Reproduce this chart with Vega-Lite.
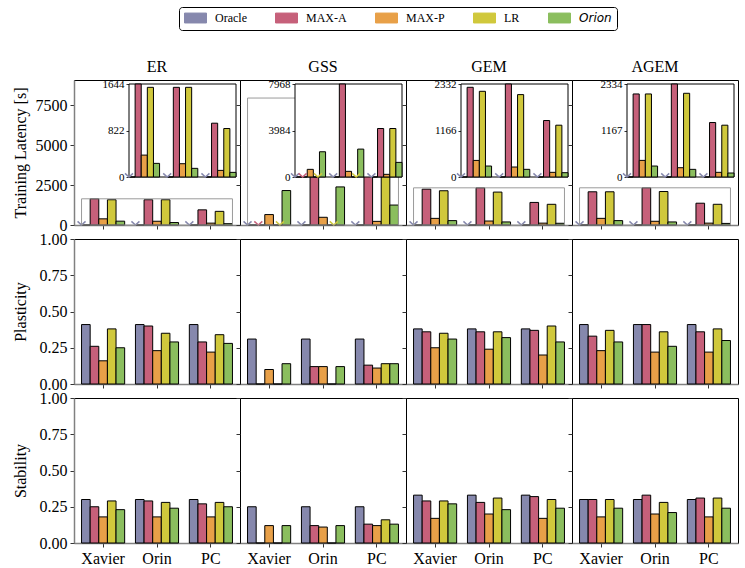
{
"$schema":"https://vega.github.io/schema/vega-lite/v6.json",
"padding":{"left":11,"top":6,"right":5,"bottom":0},
"datasets":{
"t":[
{"k":"lat","s":"ER","d":"Xavier","Oracle":0,"MAX-A":1644,"MAX-P":387,"LR":1585,"Orion":241},
{"k":"lat","s":"ER","d":"Orin","Oracle":0,"MAX-A":1585,"MAX-P":235,"LR":1585,"Orion":153},
{"k":"lat","s":"ER","d":"PC","Oracle":0,"MAX-A":951,"MAX-P":117,"LR":857,"Orion":82},
{"k":"lat","s":"GSS","d":"Xavier","Oracle":0,"MAX-A":0,"MAX-P":655,"LR":0,"Orion":2163},
{"k":"lat","s":"GSS","d":"Orin","Oracle":0,"MAX-A":7968,"MAX-P":484,"LR":0,"Orion":2390},
{"k":"lat","s":"GSS","d":"PC","Oracle":0,"MAX-A":4155,"MAX-P":228,"LR":4155,"Orion":1252},
{"k":"lat","s":"GEM","d":"Xavier","Oracle":0,"MAX-A":2249,"MAX-P":416,"LR":2149,"Orion":275},
{"k":"lat","s":"GEM","d":"Orin","Oracle":0,"MAX-A":2332,"MAX-P":250,"LR":2066,"Orion":192},
{"k":"lat","s":"GEM","d":"PC","Oracle":0,"MAX-A":1416,"MAX-P":117,"LR":1299,"Orion":108},
{"k":"lat","s":"AGEM","d":"Xavier","Oracle":0,"MAX-A":2084,"MAX-P":417,"LR":2084,"Orion":275},
{"k":"lat","s":"AGEM","d":"Orin","Oracle":0,"MAX-A":2334,"MAX-P":233,"LR":2101,"Orion":192},
{"k":"lat","s":"AGEM","d":"PC","Oracle":0,"MAX-A":1367,"MAX-P":117,"LR":1300,"Orion":100},
{"k":"pla","s":"ER","d":"Xavier","Oracle":0.41,"MAX-A":0.26,"MAX-P":0.16,"LR":0.38,"Orion":0.25},
{"k":"pla","s":"ER","d":"Orin","Oracle":0.41,"MAX-A":0.40,"MAX-P":0.23,"LR":0.35,"Orion":0.29},
{"k":"pla","s":"ER","d":"PC","Oracle":0.41,"MAX-A":0.29,"MAX-P":0.22,"LR":0.34,"Orion":0.28},
{"k":"pla","s":"GSS","d":"Xavier","Oracle":0.31,"MAX-A":0,"MAX-P":0.10,"LR":0,"Orion":0.14},
{"k":"pla","s":"GSS","d":"Orin","Oracle":0.31,"MAX-A":0.12,"MAX-P":0.12,"LR":0,"Orion":0.12},
{"k":"pla","s":"GSS","d":"PC","Oracle":0.31,"MAX-A":0.13,"MAX-P":0.11,"LR":0.14,"Orion":0.14},
{"k":"pla","s":"GEM","d":"Xavier","Oracle":0.38,"MAX-A":0.36,"MAX-P":0.25,"LR":0.35,"Orion":0.31},
{"k":"pla","s":"GEM","d":"Orin","Oracle":0.38,"MAX-A":0.36,"MAX-P":0.24,"LR":0.36,"Orion":0.32},
{"k":"pla","s":"GEM","d":"PC","Oracle":0.38,"MAX-A":0.37,"MAX-P":0.20,"LR":0.40,"Orion":0.29},
{"k":"pla","s":"AGEM","d":"Xavier","Oracle":0.41,"MAX-A":0.33,"MAX-P":0.23,"LR":0.37,"Orion":0.29},
{"k":"pla","s":"AGEM","d":"Orin","Oracle":0.41,"MAX-A":0.41,"MAX-P":0.22,"LR":0.36,"Orion":0.26},
{"k":"pla","s":"AGEM","d":"PC","Oracle":0.41,"MAX-A":0.36,"MAX-P":0.22,"LR":0.38,"Orion":0.30},
{"k":"sta","s":"ER","d":"Xavier","Oracle":0.30,"MAX-A":0.25,"MAX-P":0.18,"LR":0.29,"Orion":0.23},
{"k":"sta","s":"ER","d":"Orin","Oracle":0.30,"MAX-A":0.29,"MAX-P":0.18,"LR":0.28,"Orion":0.24},
{"k":"sta","s":"ER","d":"PC","Oracle":0.30,"MAX-A":0.27,"MAX-P":0.18,"LR":0.28,"Orion":0.25},
{"k":"sta","s":"GSS","d":"Xavier","Oracle":0.25,"MAX-A":0,"MAX-P":0.12,"LR":0,"Orion":0.12},
{"k":"sta","s":"GSS","d":"Orin","Oracle":0.25,"MAX-A":0.12,"MAX-P":0.11,"LR":0,"Orion":0.12},
{"k":"sta","s":"GSS","d":"PC","Oracle":0.25,"MAX-A":0.13,"MAX-P":0.12,"LR":0.16,"Orion":0.13},
{"k":"sta","s":"GEM","d":"Xavier","Oracle":0.33,"MAX-A":0.29,"MAX-P":0.17,"LR":0.29,"Orion":0.27},
{"k":"sta","s":"GEM","d":"Orin","Oracle":0.33,"MAX-A":0.28,"MAX-P":0.20,"LR":0.31,"Orion":0.23},
{"k":"sta","s":"GEM","d":"PC","Oracle":0.33,"MAX-A":0.32,"MAX-P":0.17,"LR":0.30,"Orion":0.24},
{"k":"sta","s":"AGEM","d":"Xavier","Oracle":0.30,"MAX-A":0.30,"MAX-P":0.18,"LR":0.30,"Orion":0.24},
{"k":"sta","s":"AGEM","d":"Orin","Oracle":0.30,"MAX-A":0.33,"MAX-P":0.20,"LR":0.28,"Orion":0.21},
{"k":"sta","s":"AGEM","d":"PC","Oracle":0.30,"MAX-A":0.31,"MAX-P":0.18,"LR":0.31,"Orion":0.24}
],
"ins":[
{"s":"ER","lo":0,"top":1644},
{"s":"GSS","lo":0,"top":7968},
{"s":"GEM","lo":0,"top":2332},
{"s":"AGEM","lo":0,"top":2334}
]
},
"data":{"name":"t"},
"vconcat":[
{"hconcat":[
{"title":"ER","width":166,"height":145,
"layer":[
{"transform":[{"filter":"datum.k==='lat'&&datum.s==='ER'"},{"fold":["Oracle","MAX-A","MAX-P","LR","Orion"],"as":["m","v"]}],
"mark":{"type":"bar","stroke":"black","strokeWidth":1},
"encoding":{
"x":{"field":"d","type":"nominal","title":null,"scale":{"domain":["Xavier","Orin","PC"],"paddingInner":0.2,"paddingOuter":0.14},"axis":{"labels":false,"tickSize":4,"domainColor":"#808080","domainWidth":1.5}},
"xOffset":{"field":"m","type":"nominal","scale":{"domain":["Oracle","MAX-A","MAX-P","LR","Orion"],"paddingInner":0,"paddingOuter":0}},
"y":{"field":"v","type":"quantitative","title":"Training Latency [s]","scale":{"domain":[0,9100],"nice":false},"axis":{"values":[0,2500,5000,7500],"format":"d","tickSize":4,"domainColor":"#808080","domainWidth":1.5}},
"color":{"field":"m","type":"nominal","title":null,"scale":{"domain":["Oracle","MAX-A","MAX-P","LR","Orion"],"range":["#8688AD","#C6607A","#E8A048","#D0C83C","#8BBE5E"]},
"legend":{"orient":"none","legendX":105,"legendY":-73,"direction":"horizontal","columns":5,"symbolType":"M-1,-0.9H3V0.9H-1Z","symbolSize":121,"symbolStrokeColor":"black","symbolStrokeWidth":1,"symbolOpacity":1,"labelFont":"Liberation Serif","labelFontSize":12,"labelColor":"black","labelOffset":19,"columnPadding":26,"padding":5,"strokeColor":"black","fillColor":"white","cornerRadius":3,
"encode":{"labels":{"update":{"fontStyle":{"signal":"datum.value==='Orion'?'italic':'normal'"},"font":{"signal":"datum.value==='Orion'?'DejaVu Sans':'Liberation Serif'"}}}}}}
}},
{"transform":[{"filter":"datum.k==='lat'&&datum.s==='ER'"},{"fold":["Oracle","MAX-A","MAX-P","LR","Orion"],"as":["m","v"]},{"filter":"datum.v===0"}],
"mark":{"type":"point","shape":"M-1,-0.9L0,0L1,-0.9","filled":false,"strokeWidth":1.5,"size":64,"opacity":1},
"encoding":{
"x":{"field":"d","type":"nominal","axis":null,"scale":{"domain":["Xavier","Orin","PC"],"paddingInner":0.2,"paddingOuter":0.14}},
"xOffset":{"field":"m","type":"nominal","scale":{"domain":["Oracle","MAX-A","MAX-P","LR","Orion"],"paddingInner":0,"paddingOuter":0}},
"y":{"field":"v","type":"quantitative","axis":null,"scale":{"domain":[0,9100],"nice":false}},
"color":{"field":"m","type":"nominal","title":null,"scale":{"domain":["Oracle","MAX-A","MAX-P","LR","Orion"],"range":["#8688AD","#C6607A","#E8A048","#D0C83C","#8BBE5E"]}}}},
{"data":{"name":"ins"},"transform":[{"filter":"datum.s==='ER'"}],
"mark":{"type":"rect","fillOpacity":0,"stroke":"#9a9a9a","strokeWidth":1},
"encoding":{
"x":{"datum":-0.4,"type":"quantitative","axis":null,"scale":{"domain":[-0.54,2.54],"nice":false,"zero":false}},
"x2":{"datum":2.4},
"y":{"field":"lo","type":"quantitative","axis":null,"scale":{"domain":[0,9100],"nice":false}},
"y2":{"field":"top"}}},
{"data":{"name":"ins"},"transform":[{"filter":"datum.s==='ER'"}],
"mark":{"type":"rect","fill":"white","stroke":"black","strokeWidth":1},
"encoding":{
"x":{"datum":-0.4,"type":"quantitative","axis":null,"scale":{"domain":[-0.4,2.4],"nice":false,"zero":false,"range":[55,162]}},
"x2":{"datum":2.4},
"y":{"field":"lo","type":"quantitative","axis":null,"scale":{"domain":[0,1644],"nice":false,"range":[97,4]}},
"y2":{"field":"top"}}},
{"transform":[{"filter":"datum.k==='lat'&&datum.s==='ER'"},{"fold":["Oracle","MAX-A","MAX-P","LR","Orion"],"as":["m","v"]}],
"mark":{"type":"bar","stroke":"black","strokeWidth":1},
"encoding":{
"x":{"field":"d","type":"nominal","title":null,"axis":null,"scale":{"domain":["Xavier","Orin","PC"],"paddingInner":0.2,"paddingOuter":0,"range":[55,162]}},
"xOffset":{"field":"m","type":"nominal","scale":{"domain":["Oracle","MAX-A","MAX-P","LR","Orion"],"paddingInner":0,"paddingOuter":0}},
"y":{"field":"v","type":"quantitative","title":null,"scale":{"domain":[0,1644],"nice":false,"range":[97,4]},"axis":{"values":[0,822,1644],"orient":"left","offset":-55,"labelFontSize":11,"tickSize":3,"labelPadding":2,"domain":false,"format":"d"}},
"color":{"field":"m","type":"nominal","title":null,"scale":{"domain":["Oracle","MAX-A","MAX-P","LR","Orion"],"range":["#8688AD","#C6607A","#E8A048","#D0C83C","#8BBE5E"]}}}},
{"transform":[{"filter":"datum.k==='lat'&&datum.s==='ER'"},{"fold":["Oracle","MAX-A","MAX-P","LR","Orion"],"as":["m","v"]},{"filter":"datum.v===0"}],
"mark":{"type":"point","shape":"M-1,-0.9L0,0L1,-0.9","filled":false,"strokeWidth":1.5,"size":64,"opacity":1},
"encoding":{
"x":{"field":"d","type":"nominal","axis":null,"scale":{"domain":["Xavier","Orin","PC"],"paddingInner":0.2,"paddingOuter":0,"range":[55,162]}},
"xOffset":{"field":"m","type":"nominal","scale":{"domain":["Oracle","MAX-A","MAX-P","LR","Orion"],"paddingInner":0,"paddingOuter":0}},
"y":{"field":"v","type":"quantitative","axis":null,"scale":{"domain":[0,1644],"nice":false,"range":[97,4]}},
"color":{"field":"m","type":"nominal","title":null,"scale":{"domain":["Oracle","MAX-A","MAX-P","LR","Orion"],"range":["#8688AD","#C6607A","#E8A048","#D0C83C","#8BBE5E"]}}}}
],
"resolve":{"scale":{"x":"independent","y":"independent","xOffset":"independent"},"axis":{"x":"independent","y":"independent"}}
},
{"title":"GSS","width":166,"height":145,
"layer":[
{"transform":[{"filter":"datum.k==='lat'&&datum.s==='GSS'"},{"fold":["Oracle","MAX-A","MAX-P","LR","Orion"],"as":["m","v"]}],
"mark":{"type":"bar","stroke":"black","strokeWidth":1},
"encoding":{
"x":{"field":"d","type":"nominal","title":null,"scale":{"domain":["Xavier","Orin","PC"],"paddingInner":0.2,"paddingOuter":0.14},"axis":{"labels":false,"tickSize":4,"domainColor":"#808080","domainWidth":1.5}},
"xOffset":{"field":"m","type":"nominal","scale":{"domain":["Oracle","MAX-A","MAX-P","LR","Orion"],"paddingInner":0,"paddingOuter":0}},
"y":{"field":"v","type":"quantitative","title":null,"scale":{"domain":[0,9100],"nice":false},"axis":{"values":[0,2500,5000,7500],"tickSize":4,"labels":false,"domain":false}},
"color":{"field":"m","type":"nominal","title":null,"scale":{"domain":["Oracle","MAX-A","MAX-P","LR","Orion"],"range":["#8688AD","#C6607A","#E8A048","#D0C83C","#8BBE5E"]}}}},
{"transform":[{"filter":"datum.k==='lat'&&datum.s==='GSS'"},{"fold":["Oracle","MAX-A","MAX-P","LR","Orion"],"as":["m","v"]},{"filter":"datum.v===0"}],
"mark":{"type":"point","shape":"M-1,-0.9L0,0L1,-0.9","filled":false,"strokeWidth":1.5,"size":64,"opacity":1},
"encoding":{
"x":{"field":"d","type":"nominal","axis":null,"scale":{"domain":["Xavier","Orin","PC"],"paddingInner":0.2,"paddingOuter":0.14}},
"xOffset":{"field":"m","type":"nominal","scale":{"domain":["Oracle","MAX-A","MAX-P","LR","Orion"],"paddingInner":0,"paddingOuter":0}},
"y":{"field":"v","type":"quantitative","axis":null,"scale":{"domain":[0,9100],"nice":false}},
"color":{"field":"m","type":"nominal","title":null,"scale":{"domain":["Oracle","MAX-A","MAX-P","LR","Orion"],"range":["#8688AD","#C6607A","#E8A048","#D0C83C","#8BBE5E"]}}}},
{"data":{"name":"ins"},"transform":[{"filter":"datum.s==='GSS'"}],
"mark":{"type":"rect","fillOpacity":0,"stroke":"#9a9a9a","strokeWidth":1},
"encoding":{
"x":{"datum":-0.4,"type":"quantitative","axis":null,"scale":{"domain":[-0.54,2.54],"nice":false,"zero":false}},
"x2":{"datum":2.4},
"y":{"field":"lo","type":"quantitative","axis":null,"scale":{"domain":[0,9100],"nice":false}},
"y2":{"field":"top"}}},
{"data":{"name":"ins"},"transform":[{"filter":"datum.s==='GSS'"}],
"mark":{"type":"rect","fill":"white","stroke":"black","strokeWidth":1},
"encoding":{
"x":{"datum":-0.4,"type":"quantitative","axis":null,"scale":{"domain":[-0.4,2.4],"nice":false,"zero":false,"range":[55,162]}},
"x2":{"datum":2.4},
"y":{"field":"lo","type":"quantitative","axis":null,"scale":{"domain":[0,7968],"nice":false,"range":[97,4]}},
"y2":{"field":"top"}}},
{"transform":[{"filter":"datum.k==='lat'&&datum.s==='GSS'"},{"fold":["Oracle","MAX-A","MAX-P","LR","Orion"],"as":["m","v"]}],
"mark":{"type":"bar","stroke":"black","strokeWidth":1},
"encoding":{
"x":{"field":"d","type":"nominal","title":null,"axis":null,"scale":{"domain":["Xavier","Orin","PC"],"paddingInner":0.2,"paddingOuter":0,"range":[55,162]}},
"xOffset":{"field":"m","type":"nominal","scale":{"domain":["Oracle","MAX-A","MAX-P","LR","Orion"],"paddingInner":0,"paddingOuter":0}},
"y":{"field":"v","type":"quantitative","title":null,"scale":{"domain":[0,7968],"nice":false,"range":[97,4]},"axis":{"values":[0,3984,7968],"orient":"left","offset":-55,"labelFontSize":11,"tickSize":3,"labelPadding":2,"domain":false,"format":"d"}},
"color":{"field":"m","type":"nominal","title":null,"scale":{"domain":["Oracle","MAX-A","MAX-P","LR","Orion"],"range":["#8688AD","#C6607A","#E8A048","#D0C83C","#8BBE5E"]}}}},
{"transform":[{"filter":"datum.k==='lat'&&datum.s==='GSS'"},{"fold":["Oracle","MAX-A","MAX-P","LR","Orion"],"as":["m","v"]},{"filter":"datum.v===0"}],
"mark":{"type":"point","shape":"M-1,-0.9L0,0L1,-0.9","filled":false,"strokeWidth":1.5,"size":64,"opacity":1},
"encoding":{
"x":{"field":"d","type":"nominal","axis":null,"scale":{"domain":["Xavier","Orin","PC"],"paddingInner":0.2,"paddingOuter":0,"range":[55,162]}},
"xOffset":{"field":"m","type":"nominal","scale":{"domain":["Oracle","MAX-A","MAX-P","LR","Orion"],"paddingInner":0,"paddingOuter":0}},
"y":{"field":"v","type":"quantitative","axis":null,"scale":{"domain":[0,7968],"nice":false,"range":[97,4]}},
"color":{"field":"m","type":"nominal","title":null,"scale":{"domain":["Oracle","MAX-A","MAX-P","LR","Orion"],"range":["#8688AD","#C6607A","#E8A048","#D0C83C","#8BBE5E"]}}}}
],
"resolve":{"scale":{"x":"independent","y":"independent","xOffset":"independent"},"axis":{"x":"independent","y":"independent"}}
},
{"title":"GEM","width":166,"height":145,
"layer":[
{"transform":[{"filter":"datum.k==='lat'&&datum.s==='GEM'"},{"fold":["Oracle","MAX-A","MAX-P","LR","Orion"],"as":["m","v"]}],
"mark":{"type":"bar","stroke":"black","strokeWidth":1},
"encoding":{
"x":{"field":"d","type":"nominal","title":null,"scale":{"domain":["Xavier","Orin","PC"],"paddingInner":0.2,"paddingOuter":0.14},"axis":{"labels":false,"tickSize":4,"domainColor":"#808080","domainWidth":1.5}},
"xOffset":{"field":"m","type":"nominal","scale":{"domain":["Oracle","MAX-A","MAX-P","LR","Orion"],"paddingInner":0,"paddingOuter":0}},
"y":{"field":"v","type":"quantitative","title":null,"scale":{"domain":[0,9100],"nice":false},"axis":{"values":[0,2500,5000,7500],"tickSize":4,"labels":false,"domain":false}},
"color":{"field":"m","type":"nominal","title":null,"scale":{"domain":["Oracle","MAX-A","MAX-P","LR","Orion"],"range":["#8688AD","#C6607A","#E8A048","#D0C83C","#8BBE5E"]}}}},
{"transform":[{"filter":"datum.k==='lat'&&datum.s==='GEM'"},{"fold":["Oracle","MAX-A","MAX-P","LR","Orion"],"as":["m","v"]},{"filter":"datum.v===0"}],
"mark":{"type":"point","shape":"M-1,-0.9L0,0L1,-0.9","filled":false,"strokeWidth":1.5,"size":64,"opacity":1},
"encoding":{
"x":{"field":"d","type":"nominal","axis":null,"scale":{"domain":["Xavier","Orin","PC"],"paddingInner":0.2,"paddingOuter":0.14}},
"xOffset":{"field":"m","type":"nominal","scale":{"domain":["Oracle","MAX-A","MAX-P","LR","Orion"],"paddingInner":0,"paddingOuter":0}},
"y":{"field":"v","type":"quantitative","axis":null,"scale":{"domain":[0,9100],"nice":false}},
"color":{"field":"m","type":"nominal","title":null,"scale":{"domain":["Oracle","MAX-A","MAX-P","LR","Orion"],"range":["#8688AD","#C6607A","#E8A048","#D0C83C","#8BBE5E"]}}}},
{"data":{"name":"ins"},"transform":[{"filter":"datum.s==='GEM'"}],
"mark":{"type":"rect","fillOpacity":0,"stroke":"#9a9a9a","strokeWidth":1},
"encoding":{
"x":{"datum":-0.4,"type":"quantitative","axis":null,"scale":{"domain":[-0.54,2.54],"nice":false,"zero":false}},
"x2":{"datum":2.4},
"y":{"field":"lo","type":"quantitative","axis":null,"scale":{"domain":[0,9100],"nice":false}},
"y2":{"field":"top"}}},
{"data":{"name":"ins"},"transform":[{"filter":"datum.s==='GEM'"}],
"mark":{"type":"rect","fill":"white","stroke":"black","strokeWidth":1},
"encoding":{
"x":{"datum":-0.4,"type":"quantitative","axis":null,"scale":{"domain":[-0.4,2.4],"nice":false,"zero":false,"range":[55,162]}},
"x2":{"datum":2.4},
"y":{"field":"lo","type":"quantitative","axis":null,"scale":{"domain":[0,2332],"nice":false,"range":[97,4]}},
"y2":{"field":"top"}}},
{"transform":[{"filter":"datum.k==='lat'&&datum.s==='GEM'"},{"fold":["Oracle","MAX-A","MAX-P","LR","Orion"],"as":["m","v"]}],
"mark":{"type":"bar","stroke":"black","strokeWidth":1},
"encoding":{
"x":{"field":"d","type":"nominal","title":null,"axis":null,"scale":{"domain":["Xavier","Orin","PC"],"paddingInner":0.2,"paddingOuter":0,"range":[55,162]}},
"xOffset":{"field":"m","type":"nominal","scale":{"domain":["Oracle","MAX-A","MAX-P","LR","Orion"],"paddingInner":0,"paddingOuter":0}},
"y":{"field":"v","type":"quantitative","title":null,"scale":{"domain":[0,2332],"nice":false,"range":[97,4]},"axis":{"values":[0,1166,2332],"orient":"left","offset":-55,"labelFontSize":11,"tickSize":3,"labelPadding":2,"domain":false,"format":"d"}},
"color":{"field":"m","type":"nominal","title":null,"scale":{"domain":["Oracle","MAX-A","MAX-P","LR","Orion"],"range":["#8688AD","#C6607A","#E8A048","#D0C83C","#8BBE5E"]}}}},
{"transform":[{"filter":"datum.k==='lat'&&datum.s==='GEM'"},{"fold":["Oracle","MAX-A","MAX-P","LR","Orion"],"as":["m","v"]},{"filter":"datum.v===0"}],
"mark":{"type":"point","shape":"M-1,-0.9L0,0L1,-0.9","filled":false,"strokeWidth":1.5,"size":64,"opacity":1},
"encoding":{
"x":{"field":"d","type":"nominal","axis":null,"scale":{"domain":["Xavier","Orin","PC"],"paddingInner":0.2,"paddingOuter":0,"range":[55,162]}},
"xOffset":{"field":"m","type":"nominal","scale":{"domain":["Oracle","MAX-A","MAX-P","LR","Orion"],"paddingInner":0,"paddingOuter":0}},
"y":{"field":"v","type":"quantitative","axis":null,"scale":{"domain":[0,2332],"nice":false,"range":[97,4]}},
"color":{"field":"m","type":"nominal","title":null,"scale":{"domain":["Oracle","MAX-A","MAX-P","LR","Orion"],"range":["#8688AD","#C6607A","#E8A048","#D0C83C","#8BBE5E"]}}}}
],
"resolve":{"scale":{"x":"independent","y":"independent","xOffset":"independent"},"axis":{"x":"independent","y":"independent"}}
},
{"title":"AGEM","width":166,"height":145,
"layer":[
{"transform":[{"filter":"datum.k==='lat'&&datum.s==='AGEM'"},{"fold":["Oracle","MAX-A","MAX-P","LR","Orion"],"as":["m","v"]}],
"mark":{"type":"bar","stroke":"black","strokeWidth":1},
"encoding":{
"x":{"field":"d","type":"nominal","title":null,"scale":{"domain":["Xavier","Orin","PC"],"paddingInner":0.2,"paddingOuter":0.14},"axis":{"labels":false,"tickSize":4,"domainColor":"#808080","domainWidth":1.5}},
"xOffset":{"field":"m","type":"nominal","scale":{"domain":["Oracle","MAX-A","MAX-P","LR","Orion"],"paddingInner":0,"paddingOuter":0}},
"y":{"field":"v","type":"quantitative","title":null,"scale":{"domain":[0,9100],"nice":false},"axis":{"values":[0,2500,5000,7500],"tickSize":4,"labels":false,"domain":false}},
"color":{"field":"m","type":"nominal","title":null,"scale":{"domain":["Oracle","MAX-A","MAX-P","LR","Orion"],"range":["#8688AD","#C6607A","#E8A048","#D0C83C","#8BBE5E"]}}}},
{"transform":[{"filter":"datum.k==='lat'&&datum.s==='AGEM'"},{"fold":["Oracle","MAX-A","MAX-P","LR","Orion"],"as":["m","v"]},{"filter":"datum.v===0"}],
"mark":{"type":"point","shape":"M-1,-0.9L0,0L1,-0.9","filled":false,"strokeWidth":1.5,"size":64,"opacity":1},
"encoding":{
"x":{"field":"d","type":"nominal","axis":null,"scale":{"domain":["Xavier","Orin","PC"],"paddingInner":0.2,"paddingOuter":0.14}},
"xOffset":{"field":"m","type":"nominal","scale":{"domain":["Oracle","MAX-A","MAX-P","LR","Orion"],"paddingInner":0,"paddingOuter":0}},
"y":{"field":"v","type":"quantitative","axis":null,"scale":{"domain":[0,9100],"nice":false}},
"color":{"field":"m","type":"nominal","title":null,"scale":{"domain":["Oracle","MAX-A","MAX-P","LR","Orion"],"range":["#8688AD","#C6607A","#E8A048","#D0C83C","#8BBE5E"]}}}},
{"data":{"name":"ins"},"transform":[{"filter":"datum.s==='AGEM'"}],
"mark":{"type":"rect","fillOpacity":0,"stroke":"#9a9a9a","strokeWidth":1},
"encoding":{
"x":{"datum":-0.4,"type":"quantitative","axis":null,"scale":{"domain":[-0.54,2.54],"nice":false,"zero":false}},
"x2":{"datum":2.4},
"y":{"field":"lo","type":"quantitative","axis":null,"scale":{"domain":[0,9100],"nice":false}},
"y2":{"field":"top"}}},
{"data":{"name":"ins"},"transform":[{"filter":"datum.s==='AGEM'"}],
"mark":{"type":"rect","fill":"white","stroke":"black","strokeWidth":1},
"encoding":{
"x":{"datum":-0.4,"type":"quantitative","axis":null,"scale":{"domain":[-0.4,2.4],"nice":false,"zero":false,"range":[55,162]}},
"x2":{"datum":2.4},
"y":{"field":"lo","type":"quantitative","axis":null,"scale":{"domain":[0,2334],"nice":false,"range":[97,4]}},
"y2":{"field":"top"}}},
{"transform":[{"filter":"datum.k==='lat'&&datum.s==='AGEM'"},{"fold":["Oracle","MAX-A","MAX-P","LR","Orion"],"as":["m","v"]}],
"mark":{"type":"bar","stroke":"black","strokeWidth":1},
"encoding":{
"x":{"field":"d","type":"nominal","title":null,"axis":null,"scale":{"domain":["Xavier","Orin","PC"],"paddingInner":0.2,"paddingOuter":0,"range":[55,162]}},
"xOffset":{"field":"m","type":"nominal","scale":{"domain":["Oracle","MAX-A","MAX-P","LR","Orion"],"paddingInner":0,"paddingOuter":0}},
"y":{"field":"v","type":"quantitative","title":null,"scale":{"domain":[0,2334],"nice":false,"range":[97,4]},"axis":{"values":[0,1167,2334],"orient":"left","offset":-55,"labelFontSize":11,"tickSize":3,"labelPadding":2,"domain":false,"format":"d"}},
"color":{"field":"m","type":"nominal","title":null,"scale":{"domain":["Oracle","MAX-A","MAX-P","LR","Orion"],"range":["#8688AD","#C6607A","#E8A048","#D0C83C","#8BBE5E"]}}}},
{"transform":[{"filter":"datum.k==='lat'&&datum.s==='AGEM'"},{"fold":["Oracle","MAX-A","MAX-P","LR","Orion"],"as":["m","v"]},{"filter":"datum.v===0"}],
"mark":{"type":"point","shape":"M-1,-0.9L0,0L1,-0.9","filled":false,"strokeWidth":1.5,"size":64,"opacity":1},
"encoding":{
"x":{"field":"d","type":"nominal","axis":null,"scale":{"domain":["Xavier","Orin","PC"],"paddingInner":0.2,"paddingOuter":0,"range":[55,162]}},
"xOffset":{"field":"m","type":"nominal","scale":{"domain":["Oracle","MAX-A","MAX-P","LR","Orion"],"paddingInner":0,"paddingOuter":0}},
"y":{"field":"v","type":"quantitative","axis":null,"scale":{"domain":[0,2334],"nice":false,"range":[97,4]}},
"color":{"field":"m","type":"nominal","title":null,"scale":{"domain":["Oracle","MAX-A","MAX-P","LR","Orion"],"range":["#8688AD","#C6607A","#E8A048","#D0C83C","#8BBE5E"]}}}}
],
"resolve":{"scale":{"x":"independent","y":"independent","xOffset":"independent"},"axis":{"x":"independent","y":"independent"}}
}
],"spacing":0,"bounds":"flush"},
{"hconcat":[
{"width":166,"height":145,"transform":[{"filter":"datum.k==='pla'&&datum.s==='ER'"},{"fold":["Oracle","MAX-A","MAX-P","LR","Orion"],"as":["m","v"]}],
"mark":{"type":"bar","stroke":"black","strokeWidth":1},
"encoding":{
"x":{"field":"d","type":"nominal","title":null,"scale":{"domain":["Xavier","Orin","PC"],"paddingInner":0.2,"paddingOuter":0.14},"axis":{"labels":false,"tickSize":4,"domainColor":"#808080","domainWidth":1.5}},
"xOffset":{"field":"m","type":"nominal","scale":{"domain":["Oracle","MAX-A","MAX-P","LR","Orion"],"paddingInner":0,"paddingOuter":0}},
"y":{"field":"v","type":"quantitative","title":"Plasticity","scale":{"domain":[0,1],"nice":false},"axis":{"values":[0,0.25,0.5,0.75,1],"format":".2f","tickSize":4,"domainColor":"#808080","domainWidth":1.5}},
"color":{"field":"m","type":"nominal","title":null,"scale":{"domain":["Oracle","MAX-A","MAX-P","LR","Orion"],"range":["#8688AD","#C6607A","#E8A048","#D0C83C","#8BBE5E"]}}}},
{"width":166,"height":145,"transform":[{"filter":"datum.k==='pla'&&datum.s==='GSS'"},{"fold":["Oracle","MAX-A","MAX-P","LR","Orion"],"as":["m","v"]}],
"mark":{"type":"bar","stroke":"black","strokeWidth":1},
"encoding":{
"x":{"field":"d","type":"nominal","title":null,"scale":{"domain":["Xavier","Orin","PC"],"paddingInner":0.2,"paddingOuter":0.14},"axis":{"labels":false,"tickSize":4,"domainColor":"#808080","domainWidth":1.5}},
"xOffset":{"field":"m","type":"nominal","scale":{"domain":["Oracle","MAX-A","MAX-P","LR","Orion"],"paddingInner":0,"paddingOuter":0}},
"y":{"field":"v","type":"quantitative","title":null,"scale":{"domain":[0,1],"nice":false},"axis":{"values":[0,0.25,0.5,0.75,1],"labels":false,"domain":false,"tickSize":4}},
"color":{"field":"m","type":"nominal","title":null,"scale":{"domain":["Oracle","MAX-A","MAX-P","LR","Orion"],"range":["#8688AD","#C6607A","#E8A048","#D0C83C","#8BBE5E"]}}}},
{"width":166,"height":145,"transform":[{"filter":"datum.k==='pla'&&datum.s==='GEM'"},{"fold":["Oracle","MAX-A","MAX-P","LR","Orion"],"as":["m","v"]}],
"mark":{"type":"bar","stroke":"black","strokeWidth":1},
"encoding":{
"x":{"field":"d","type":"nominal","title":null,"scale":{"domain":["Xavier","Orin","PC"],"paddingInner":0.2,"paddingOuter":0.14},"axis":{"labels":false,"tickSize":4,"domainColor":"#808080","domainWidth":1.5}},
"xOffset":{"field":"m","type":"nominal","scale":{"domain":["Oracle","MAX-A","MAX-P","LR","Orion"],"paddingInner":0,"paddingOuter":0}},
"y":{"field":"v","type":"quantitative","title":null,"scale":{"domain":[0,1],"nice":false},"axis":{"values":[0,0.25,0.5,0.75,1],"labels":false,"domain":false,"tickSize":4}},
"color":{"field":"m","type":"nominal","title":null,"scale":{"domain":["Oracle","MAX-A","MAX-P","LR","Orion"],"range":["#8688AD","#C6607A","#E8A048","#D0C83C","#8BBE5E"]}}}},
{"width":166,"height":145,"transform":[{"filter":"datum.k==='pla'&&datum.s==='AGEM'"},{"fold":["Oracle","MAX-A","MAX-P","LR","Orion"],"as":["m","v"]}],
"mark":{"type":"bar","stroke":"black","strokeWidth":1},
"encoding":{
"x":{"field":"d","type":"nominal","title":null,"scale":{"domain":["Xavier","Orin","PC"],"paddingInner":0.2,"paddingOuter":0.14},"axis":{"labels":false,"tickSize":4,"domainColor":"#808080","domainWidth":1.5}},
"xOffset":{"field":"m","type":"nominal","scale":{"domain":["Oracle","MAX-A","MAX-P","LR","Orion"],"paddingInner":0,"paddingOuter":0}},
"y":{"field":"v","type":"quantitative","title":null,"scale":{"domain":[0,1],"nice":false},"axis":{"values":[0,0.25,0.5,0.75,1],"labels":false,"domain":false,"tickSize":4}},
"color":{"field":"m","type":"nominal","title":null,"scale":{"domain":["Oracle","MAX-A","MAX-P","LR","Orion"],"range":["#8688AD","#C6607A","#E8A048","#D0C83C","#8BBE5E"]}}}}
],"spacing":0,"bounds":"flush"},
{"hconcat":[
{"width":166,"height":145,"transform":[{"filter":"datum.k==='sta'&&datum.s==='ER'"},{"fold":["Oracle","MAX-A","MAX-P","LR","Orion"],"as":["m","v"]}],
"mark":{"type":"bar","stroke":"black","strokeWidth":1},
"encoding":{
"x":{"field":"d","type":"nominal","title":null,"scale":{"domain":["Xavier","Orin","PC"],"paddingInner":0.2,"paddingOuter":0.14},"axis":{"labelAngle":0,"tickSize":4,"domainColor":"#808080","domainWidth":1.5}},
"xOffset":{"field":"m","type":"nominal","scale":{"domain":["Oracle","MAX-A","MAX-P","LR","Orion"],"paddingInner":0,"paddingOuter":0}},
"y":{"field":"v","type":"quantitative","title":"Stability","scale":{"domain":[0,1],"nice":false},"axis":{"values":[0,0.25,0.5,0.75,1],"format":".2f","tickSize":4,"domainColor":"#808080","domainWidth":1.5}},
"color":{"field":"m","type":"nominal","title":null,"scale":{"domain":["Oracle","MAX-A","MAX-P","LR","Orion"],"range":["#8688AD","#C6607A","#E8A048","#D0C83C","#8BBE5E"]}}}},
{"width":166,"height":145,"transform":[{"filter":"datum.k==='sta'&&datum.s==='GSS'"},{"fold":["Oracle","MAX-A","MAX-P","LR","Orion"],"as":["m","v"]}],
"mark":{"type":"bar","stroke":"black","strokeWidth":1},
"encoding":{
"x":{"field":"d","type":"nominal","title":null,"scale":{"domain":["Xavier","Orin","PC"],"paddingInner":0.2,"paddingOuter":0.14},"axis":{"labelAngle":0,"tickSize":4,"domainColor":"#808080","domainWidth":1.5}},
"xOffset":{"field":"m","type":"nominal","scale":{"domain":["Oracle","MAX-A","MAX-P","LR","Orion"],"paddingInner":0,"paddingOuter":0}},
"y":{"field":"v","type":"quantitative","title":null,"scale":{"domain":[0,1],"nice":false},"axis":{"values":[0,0.25,0.5,0.75,1],"labels":false,"domain":false,"tickSize":4}},
"color":{"field":"m","type":"nominal","title":null,"scale":{"domain":["Oracle","MAX-A","MAX-P","LR","Orion"],"range":["#8688AD","#C6607A","#E8A048","#D0C83C","#8BBE5E"]}}}},
{"width":166,"height":145,"transform":[{"filter":"datum.k==='sta'&&datum.s==='GEM'"},{"fold":["Oracle","MAX-A","MAX-P","LR","Orion"],"as":["m","v"]}],
"mark":{"type":"bar","stroke":"black","strokeWidth":1},
"encoding":{
"x":{"field":"d","type":"nominal","title":null,"scale":{"domain":["Xavier","Orin","PC"],"paddingInner":0.2,"paddingOuter":0.14},"axis":{"labelAngle":0,"tickSize":4,"domainColor":"#808080","domainWidth":1.5}},
"xOffset":{"field":"m","type":"nominal","scale":{"domain":["Oracle","MAX-A","MAX-P","LR","Orion"],"paddingInner":0,"paddingOuter":0}},
"y":{"field":"v","type":"quantitative","title":null,"scale":{"domain":[0,1],"nice":false},"axis":{"values":[0,0.25,0.5,0.75,1],"labels":false,"domain":false,"tickSize":4}},
"color":{"field":"m","type":"nominal","title":null,"scale":{"domain":["Oracle","MAX-A","MAX-P","LR","Orion"],"range":["#8688AD","#C6607A","#E8A048","#D0C83C","#8BBE5E"]}}}},
{"width":166,"height":145,"transform":[{"filter":"datum.k==='sta'&&datum.s==='AGEM'"},{"fold":["Oracle","MAX-A","MAX-P","LR","Orion"],"as":["m","v"]}],
"mark":{"type":"bar","stroke":"black","strokeWidth":1},
"encoding":{
"x":{"field":"d","type":"nominal","title":null,"scale":{"domain":["Xavier","Orin","PC"],"paddingInner":0.2,"paddingOuter":0.14},"axis":{"labelAngle":0,"tickSize":4,"domainColor":"#808080","domainWidth":1.5}},
"xOffset":{"field":"m","type":"nominal","scale":{"domain":["Oracle","MAX-A","MAX-P","LR","Orion"],"paddingInner":0,"paddingOuter":0}},
"y":{"field":"v","type":"quantitative","title":null,"scale":{"domain":[0,1],"nice":false},"axis":{"values":[0,0.25,0.5,0.75,1],"labels":false,"domain":false,"tickSize":4}},
"color":{"field":"m","type":"nominal","title":null,"scale":{"domain":["Oracle","MAX-A","MAX-P","LR","Orion"],"range":["#8688AD","#C6607A","#E8A048","#D0C83C","#8BBE5E"]}}}}
],"spacing":0,"bounds":"flush"}
],
"spacing":-4,
"resolve":{"scale":{"color":"shared"},"legend":{"color":"shared"}},
"config":{
"font":"Liberation Serif",
"view":{"stroke":"black","strokeWidth":1},
"axis":{"labelFont":"Liberation Serif","labelFontSize":16,"titleFont":"Liberation Serif","titleFontSize":16,"titleFontWeight":"normal","labelColor":"black","titleColor":"black","tickColor":"#333","tickWidth":1,"grid":false,"labelPadding":3,"zindex":1},
"axisY":{"minExtent":42,"maxExtent":42,"titlePadding":4},
"title":{"font":"Liberation Serif","fontSize":16,"fontWeight":"normal","offset":3,"anchor":"middle","color":"black"}
}
}
